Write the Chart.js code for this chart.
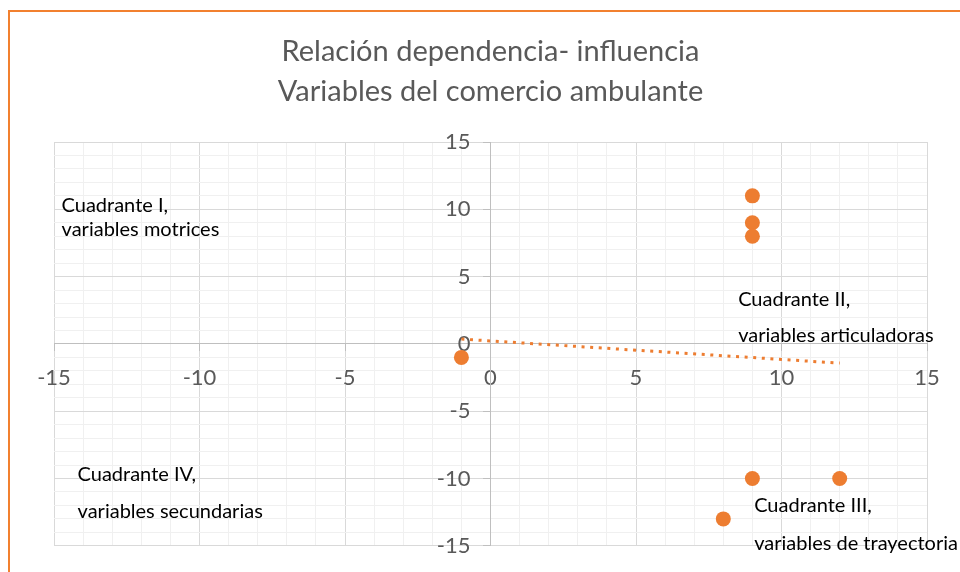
<!DOCTYPE html>
<html lang="es">
<head>
<meta charset="utf-8">
<title>Relación dependencia- influencia</title>
<script src="https://cdn.jsdelivr.net/npm/chart.js@4/dist/chart.umd.min.js"></script>
<style>
    html, body { margin: 0; padding: 0; background: #fff; }
    #wrap { position: relative; width: 960px; height: 572px; overflow: hidden; }
    #frame {
        position: absolute; left: 8px; top: 10px; width: 1000px; height: 600px;
        border-left: 2px solid #F2802F; border-top: 2px solid #F2802F;
    }
    #chart-dep { position: absolute; left: 0; top: 0; }
</style>
</head>
<body>
<div id="wrap">
    <div id="frame"></div>
    <canvas id="chart-dep" width="960" height="572"></canvas>
</div>
<script>
// Variables: influencia (x) / dependencia (y)
const influencia = [9, 9, 9, -1, 9, 12, 8];
const dependencia = [11, 9, 8, -1, -10, -10, -13];

const titleLines = ['Relación dependencia- influencia', 'Variables del comercio ambulante'];
const axisLabels = [-15, -10, -5, 0, 5, 10, 15];

const quadrantText = [
    'Cuadrante I,', 'variables motrices',
    'Cuadrante II,', 'variables articuladoras',
    'Cuadrante IV,', 'variables secundarias',
    'Cuadrante III,', 'variables de trayectoria'
];

const ORANGE = '#ED7D31';
const GREY_TEXT = '#595959';
const FONT = 'Lato, "Open Sans", sans-serif';

// Least squares line through the points (Excel linear trendline)
function linearFit(xs, ys) {
    const n = xs.length;
    const mx = xs.reduce((a, b) => a + b, 0) / n;
    const my = ys.reduce((a, b) => a + b, 0) / n;
    let sxy = 0, sxx = 0;
    xs.forEach((x, i) => { sxy += (x - mx) * (ys[i] - my); sxx += (x - mx) * (x - mx); });
    const slope = sxy / sxx;
    return { slope, intercept: my - slope * mx };
}

const fit = linearFit(influencia, dependencia);
const xMin = Math.min(...influencia);
const xMax = Math.max(...influencia);
const trendPoints = [xMin, xMax].map(x => ({ x, y: fit.intercept + fit.slope * x }));
const points = influencia.map((x, i) => ({ x, y: dependencia[i] }));

// Quadrant captions, anchored in data units (left edge, vertical middle)
const quadrantLabels = {
    id: 'quadrantLabels',
    afterDraw(chart) {
        const anchors = [
            [-14.74, 10.3], [-14.74, 8.5],
            [8.51, 3.33], [8.51, 0.59],
            [-14.19, -9.7], [-14.19, -12.44],
            [9.06, -12.0], [9.06, -14.8]
        ];
        const { ctx, scales } = chart;
        ctx.save();
        ctx.font = `20px ${FONT}`;
        ctx.fillStyle = '#000';
        ctx.textAlign = 'left';
        ctx.textBaseline = 'middle';
        quadrantText.forEach((txt, i) => {
            ctx.fillText(txt, scales.x.getPixelForValue(anchors[i][0]), scales.y.getPixelForValue(anchors[i][1]));
        });
        ctx.restore();
    }
};

const gridColor = ctx => (ctx.tick && ctx.tick.value % 5 === 0) ? '#d9d9d9' : '#f0f0f0';
const tickColor = ctx => (ctx.tick && ctx.tick.value % 5 === 0) ? '#bfbfbf' : 'rgba(0,0,0,0)';
const tickLabel = v => axisLabels.includes(v) ? String(v) : '';

function axisOptions(pos, padding) {
    return {
        type: 'linear',
        position: pos,
        min: -15,
        max: 15,
        ticks: {
            stepSize: 1,
            autoSkip: false,
            maxRotation: 0,
            minRotation: 0,
            padding: padding,
            color: GREY_TEXT,
            font: { family: FONT, size: 22 },
            callback: tickLabel
        },
        grid: { color: gridColor, tickColor: tickColor, tickLength: 7, lineWidth: 1 },
        border: { color: '#bfbfbf', width: 1 }
    };
}

new Chart(document.getElementById('chart-dep'), {
    type: 'scatter',
    data: {
        datasets: [
            {
                label: 'Variables',
                data: points,
                backgroundColor: ORANGE,
                borderColor: ORANGE,
                borderWidth: 0,
                pointRadius: 7.5
            },
            {
                label: 'Lineal',
                data: trendPoints,
                showLine: true,
                borderColor: ORANGE,
                borderWidth: 3,
                borderDash: [3, 5.6],
                pointRadius: 0,
                fill: false
            }
        ]
    },
    options: {
        responsive: false,
        animation: false,
        events: [],
        layout: { padding: { left: 54, right: 33, top: 4, bottom: 25 } },
        plugins: {
            legend: { display: false },
            tooltip: { enabled: false },
            title: {
                display: true,
                text: titleLines,
                color: GREY_TEXT,
                font: { family: FONT, size: 29, weight: 'normal', lineHeight: 1.38 },
                padding: { top: 28, bottom: 30 }
            }
        },
        scales: {
            // both ranges are symmetric, so the chart-area centre is the zero line
            x: axisOptions({ y: 0 }, 14),
            y: axisOptions('center', 13)
        }
    },
    plugins: [quadrantLabels]
});
</script>
</body>
</html>
